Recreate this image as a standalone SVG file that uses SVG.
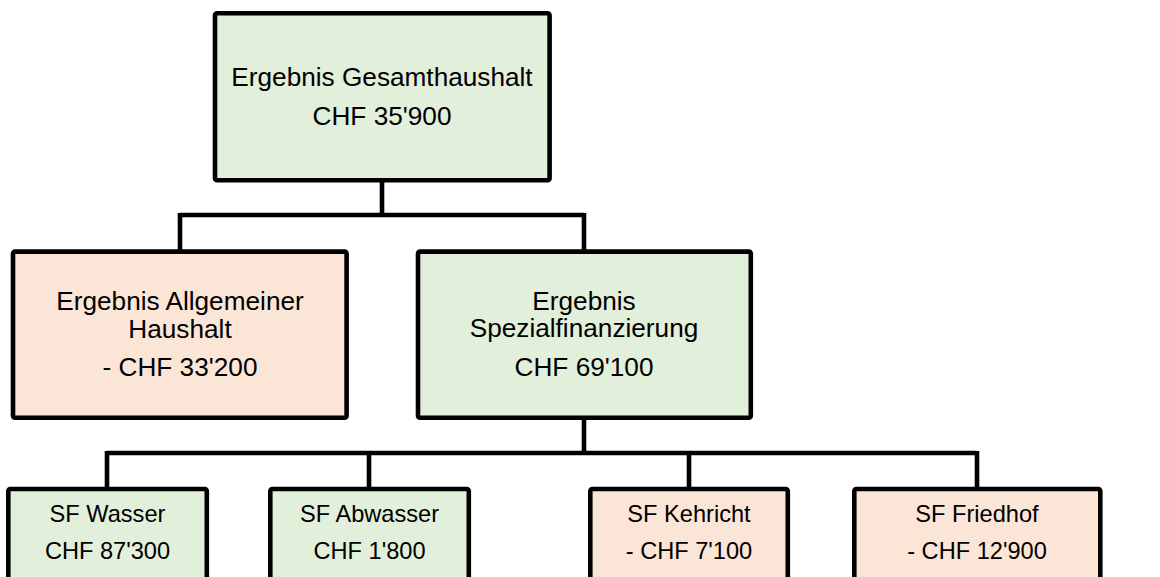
<svg xmlns="http://www.w3.org/2000/svg" width="1160" height="577" viewBox="0 0 1160 577">
<style>
.box{stroke:#000;stroke-width:4.6;}
.g{fill:#E2EFDA;}
.p{fill:#FBE5D6;}
.t{font-family:"Liberation Sans",Arial,sans-serif;font-size:26.2px;fill:#000;text-anchor:middle;}
.s{font-family:"Liberation Sans",Arial,sans-serif;font-size:23.6px;fill:#000;text-anchor:middle;}
.c{fill:none;stroke:#000;stroke-width:4.6;}
</style>
<rect width="1160" height="577" fill="#fff"/>
<g id="connectors">
<path class="c" d="M382 180 V215 M180 215 H584 M180 213 V252 M584 213 V252"/>
<path class="c" d="M584 418 V453 M107 453 H977 M107 451 V489 M369 451 V489 M689 451 V489 M977 451 V489"/>
</g>
<g id="n-gesamt">
<rect class="box g" x="215" y="13.3" width="334.6" height="167" rx="2"/>
<text class="t" x="382" y="86">Ergebnis Gesamthaushalt</text>
<text class="t" x="382" y="125">CHF 35'900</text>
</g>
<g id="n-allgemein">
<rect class="box p" x="13" y="251.6" width="333.6" height="166.2" rx="2"/>
<text class="t" x="180" y="310">Ergebnis Allgemeiner</text>
<text class="t" x="180" y="337.5">Haushalt</text>
<text class="t" x="180" y="375.7">- CHF 33'200</text>
</g>
<g id="n-spezial">
<rect class="box g" x="418" y="251.6" width="332.8" height="166.2" rx="2"/>
<text class="t" x="584" y="310">Ergebnis</text>
<text class="t" x="584" y="337">Spezialfinanzierung</text>
<text class="t" x="584" y="375.7">CHF 69'100</text>
</g>
<g id="n-wasser">
<rect class="box g" x="8.3" y="489" width="198.5" height="100" rx="2"/>
<text class="s" x="107.5" y="522">SF Wasser</text>
<text class="s" x="107.5" y="559">CHF 87'300</text>
</g>
<g id="n-abwasser">
<rect class="box g" x="270.3" y="489" width="198.5" height="100" rx="2"/>
<text class="s" x="369.5" y="522">SF Abwasser</text>
<text class="s" x="369.5" y="559">CHF 1'800</text>
</g>
<g id="n-kehricht">
<rect class="box p" x="590.3" y="489" width="197.5" height="100" rx="2"/>
<text class="s" x="689" y="522">SF Kehricht</text>
<text class="s" x="689" y="559">- CHF 7'100</text>
</g>
<g id="n-friedhof">
<rect class="box p" x="854.3" y="489" width="246" height="100" rx="2"/>
<text class="s" x="977" y="522">SF Friedhof</text>
<text class="s" x="977" y="559">- CHF 12'900</text>
</g>
</svg>
